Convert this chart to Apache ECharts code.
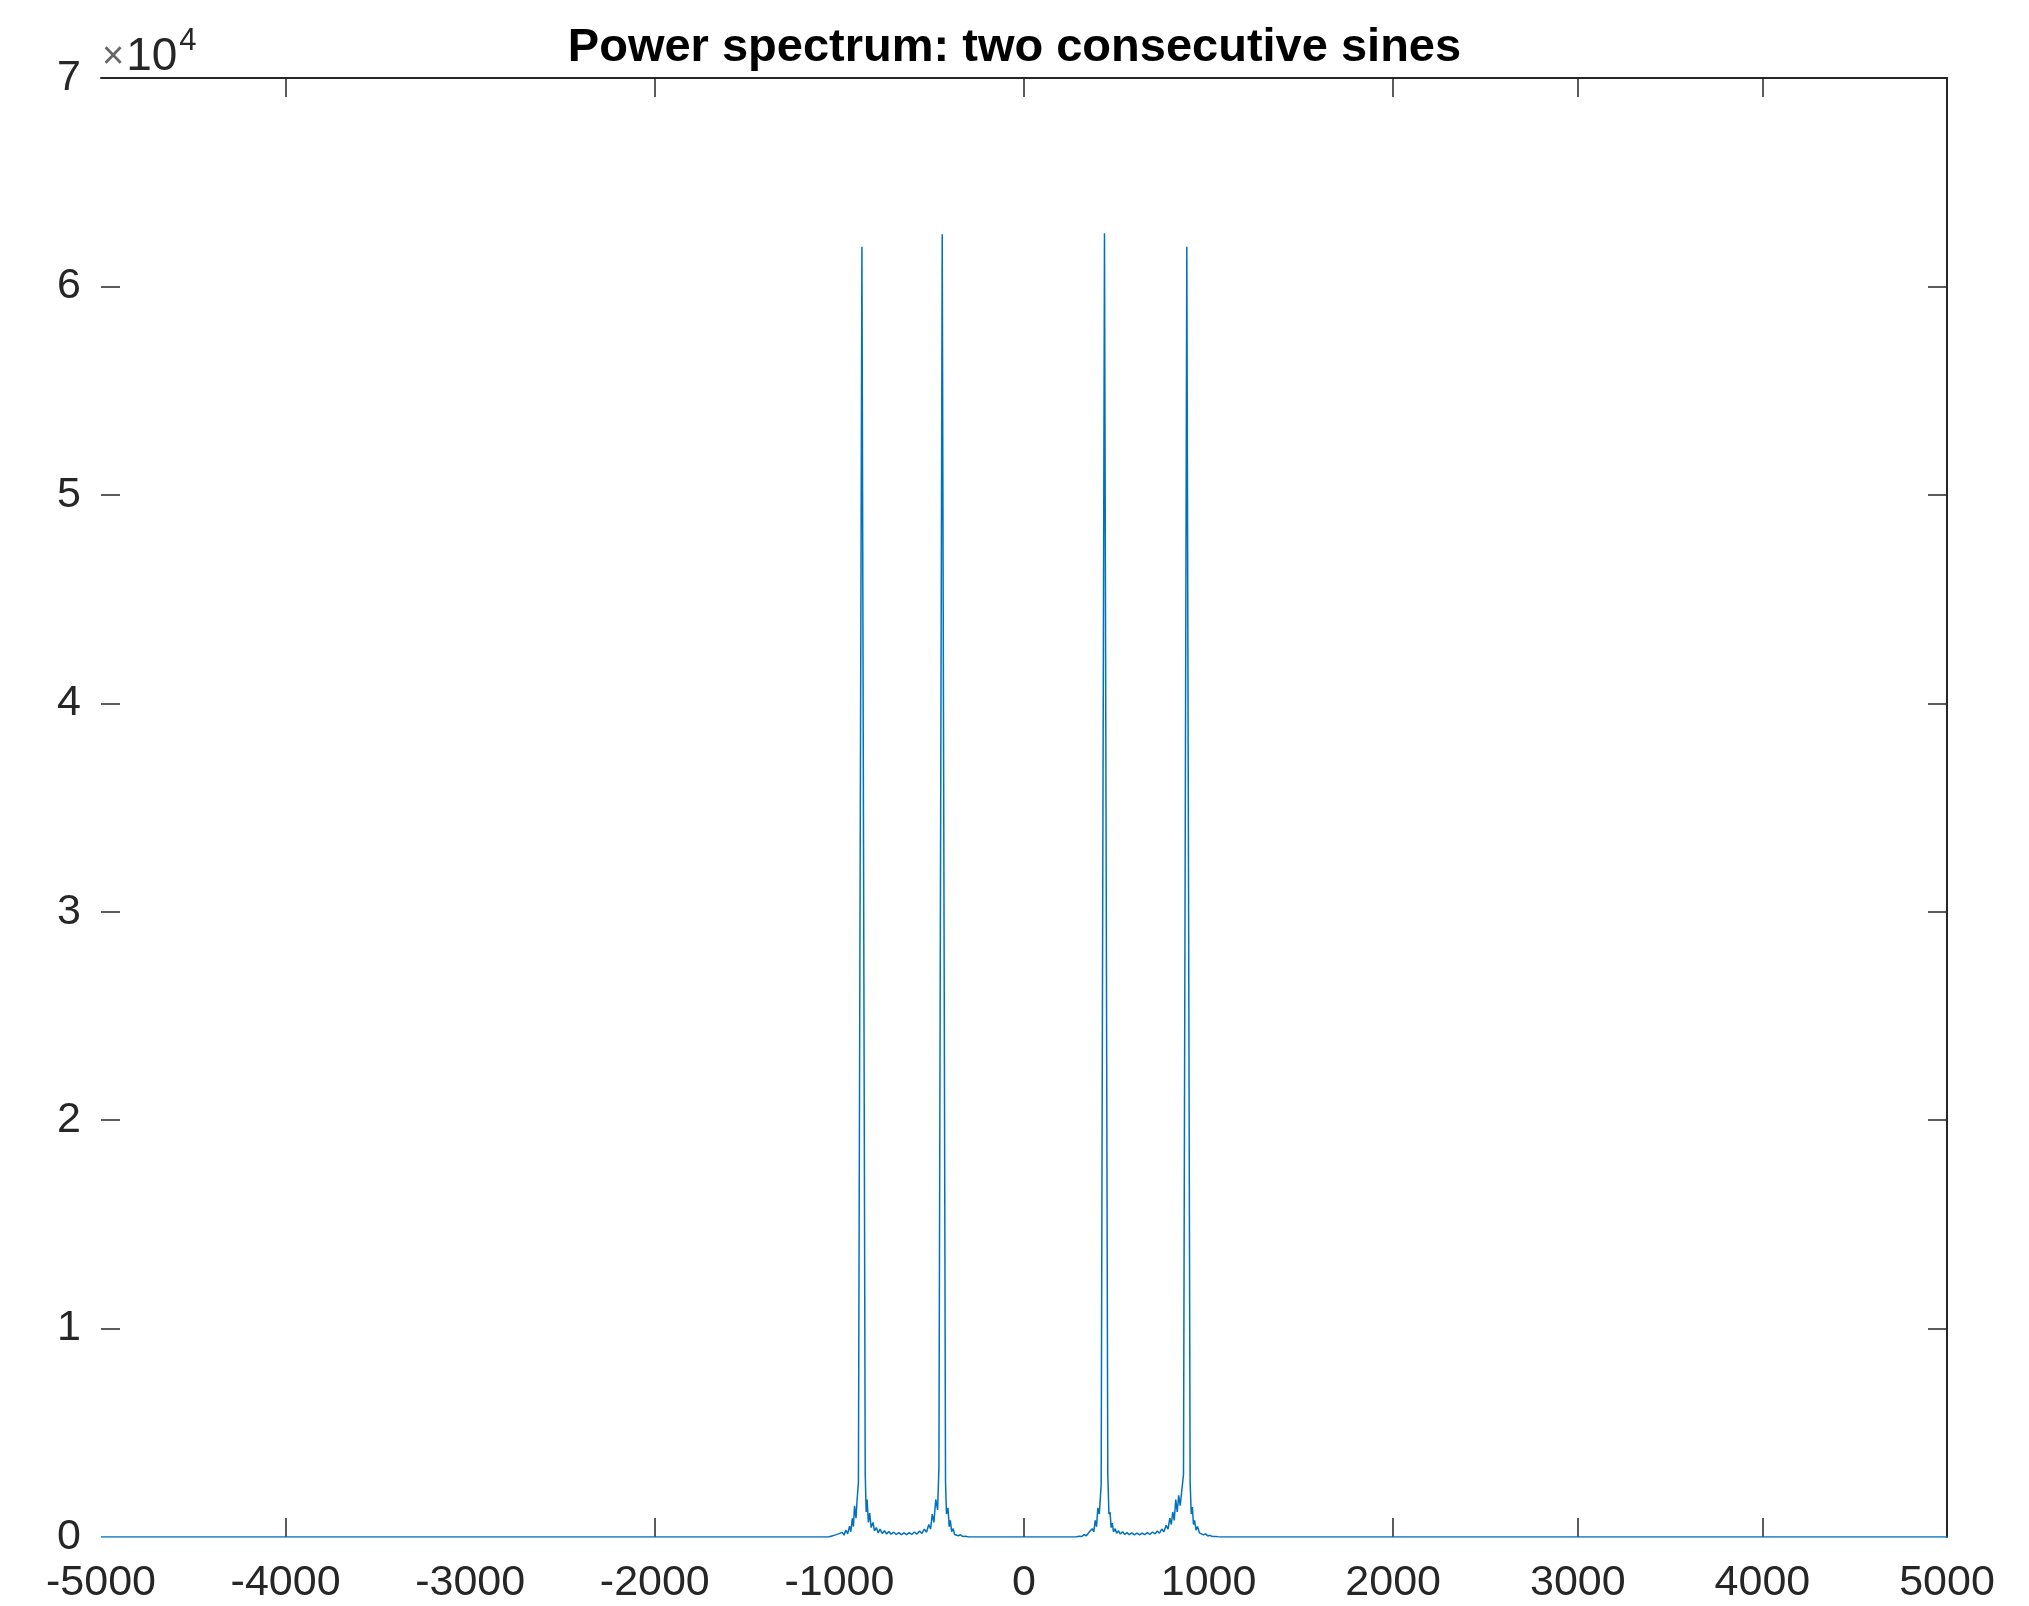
<!DOCTYPE html>
<html>
<head>
<meta charset="utf-8">
<script src="https://cdn.jsdelivr.net/npm/echarts@6/dist/echarts.min.js"></script>
<style>
html,body{margin:0;padding:0;background:#fff;}
#chart{width:2029px;height:1606px;}
</style>
</head>
<body>
<div id="chart"></div>
<script>
// ---- data ----
const titleText = 'Power spectrum: two consecutive sines';
const xTickLabels = [-5000,-4000,-3000,-2000,-1000,0,1000,2000,3000,4000,5000];
const xTickMarks = [-4000,-2000,0,2000,3000,4000];
const yTickLabels = [0,1,2,3,4,5,6,7];
const yTickMarks = [10000,20000,30000,40000,50000,60000];

// negative-frequency half (estimated from the plot)
const freqNeg = [-5000,-1060,-1045,-1035,-1025,-1015,-1005,-995,-985,-975,-965,-955,-945,-938,-930,-924,-918,-910,-904,-897,
  -878,
  -860,-855,-850,-843,-836,-828,-818,-810,-800,-790,-780,-768,-756,-744,-732,-720,-706,-692,-678,-664,-650,-636,-622,-608,-594,-580,-566,-553,-540,-528,-516,-506,-497,-488,-478,-468,-461,
  -443,
  -425,-420,-412,-405,-399,-392,-384,-376,-366,-356,-344,-332,-318,-300,-280];
const powerNeg = [0,0,40,10,90,30,150,60,220,90,330,150,520,250,900,500,1500,900,1800,2600,
  61900,
  3000,1200,1800,700,1150,450,700,300,450,200,380,170,300,140,260,130,230,120,210,110,200,110,210,120,240,140,290,170,380,230,600,380,1100,700,1800,1300,3300,
  62500,
  2600,1100,1400,500,800,250,400,120,200,60,110,20,40,0,0];

// positive-frequency half (estimated from the plot)
const freqPos = [280,298,312,326,338,350,360,370,378,386,393,400,408,418,
  436,
  454,460,466,472,478,485,494,502,512,522,534,546,558,570,584,598,612,626,640,654,668,682,696,710,722,734,746,758,770,780,790,798,806,814,822,830,838,846,864,
  882,
  900,906,912,918,924,932,940,950,960,972,984,996,1008,1020,1035,1050,1070,5000];
const powerPos = [0,40,20,110,60,200,120,400,250,800,500,1400,1100,2500,
  62550,
  3000,1100,1200,450,670,250,400,180,300,140,250,120,210,110,200,100,190,100,190,110,210,120,240,150,290,180,380,250,560,380,900,600,1200,800,1800,1200,2000,1500,3000,
  61900,
  2600,1100,1440,600,800,330,500,200,280,100,150,50,80,20,30,10,0,0];

const axisColor = '#262626';
const fontFam = '"Liberation Sans", Arial, Helvetica, sans-serif';
const seriesData = freqNeg.map((f, i) => [f, powerNeg[i]])
  .concat(freqPos.map((f, i) => [f, powerPos[i]]));

const chart = echarts.init(document.getElementById('chart'));
chart.setOption({
  animation: false,
  backgroundColor: '#fff',
  grid: {left: 101, right: 82, top: 78, bottom: 69, containLabel: false},
  xAxis: [
    {
      type: 'value', position: 'bottom', min: -5000, max: 5000, interval: 1000,
      axisLine: {show: false, onZero: false},
      axisTick: {show: true, inside: true, length: 19, customValues: xTickMarks,
                 lineStyle: {color: axisColor, width: 1.5}},
      axisLabel: {show: true, customValues: xTickLabels, margin: 25, color: axisColor,
                  fontSize: 43, fontFamily: fontFam, formatter: v => String(v)},
      splitLine: {show: false}
    },
    {
      type: 'value', position: 'top', min: -5000, max: 5000, interval: 1000,
      axisLine: {show: true, onZero: false, lineStyle: {color: axisColor, width: 2}},
      axisTick: {show: true, inside: true, length: 19, customValues: xTickMarks,
                 lineStyle: {color: axisColor, width: 1.5}},
      axisLabel: {show: false},
      splitLine: {show: false}
    }
  ],
  yAxis: [
    {
      type: 'value', position: 'left', min: 0, max: 70000, interval: 10000,
      axisLine: {show: false, onZero: false},
      axisTick: {show: true, inside: true, length: 19, customValues: yTickMarks,
                 lineStyle: {color: axisColor, width: 1.5}},
      axisLabel: {show: true, margin: 20, color: axisColor, fontSize: 43, fontFamily: fontFam,
                  customValues: yTickLabels.map(v => v * 10000),
                  formatter: v => String(v / 10000)},
      splitLine: {show: false}
    },
    {
      type: 'value', position: 'right', min: 0, max: 70000, interval: 10000,
      axisLine: {show: true, onZero: false, lineStyle: {color: axisColor, width: 2}},
      axisTick: {show: true, inside: true, length: 19, customValues: yTickMarks,
                 lineStyle: {color: axisColor, width: 1.5}},
      axisLabel: {show: false},
      splitLine: {show: false}
    }
  ],
  graphic: [
    {
      type: 'text', left: 'center', top: 25,
      style: {text: titleText, fill: '#000', fontSize: 47, fontWeight: 'bold', fontFamily: fontFam}
    },
    {
      type: 'text', left: 102, top: 26,
      style: {
        text: '{x|×}{b|10}{s|4}',
        rich: {
          x: {fontSize: 38, fill: '#666', fontFamily: fontFam, padding: [10,2,0,0]},
          b: {fontSize: 46, fill: axisColor, fontFamily: fontFam, padding: [10,0,0,0]},
          s: {fontSize: 31, fill: axisColor, fontFamily: fontFam, padding: [0,0,22,2]}
        }
      }
    }
  ],
  series: [
    {
      type: 'line', xAxisIndex: 0, yAxisIndex: 0, data: seriesData,
      showSymbol: false, symbol: 'none', smooth: false,
      lineStyle: {color: '#0072BD', width: 1.5},
      z: 3
    }
  ]
});
</script>
</body>
</html>
